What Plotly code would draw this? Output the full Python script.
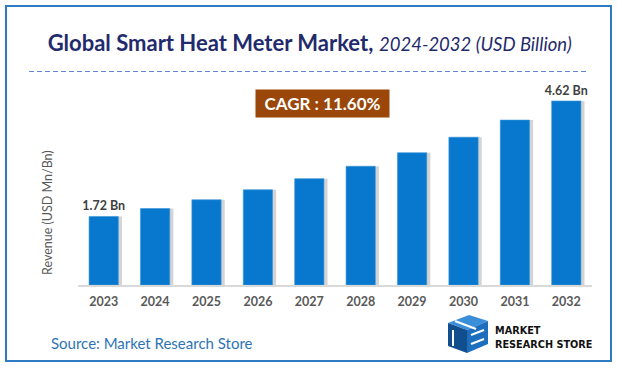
import plotly.graph_objects as go

years = ["2023", "2024", "2025", "2026", "2027", "2028", "2029", "2030", "2031", "2032"]
revenue = [1.72, 1.92, 2.14, 2.39, 2.67, 2.98, 3.32, 3.71, 4.14, 4.62]
bar_labels = ["1.72 Bn", "", "", "", "", "", "", "", "", "4.62 Bn"]
cagr_text = "CAGR : 11.60%"
title_main = "Global Smart Heat Meter Market,"
title_sub = "2024-2032 (USD Billion)"
y_title = "Revenue (USD Mn/Bn)"
source_text = "Source: Market Research Store"
logo_text = "MARKET<br>RESEARCH STORE"

W, H = 617, 369
L, R = 78, 592          # plot area pixel extents
TOP, BASE = 85, 285

def px_x(x):
    return (x - L) / (R - L)

def px_y(y):
    return (BASE - y) / (BASE - TOP)

FONT = "Lato"
BW = 0.57

fig = go.Figure()
# soft shadow behind bars
fig.add_trace(go.Bar(
    x=years, y=revenue, width=BW, offset=-BW / 2 + 0.07,
    marker=dict(color="rgba(100,100,100,0.28)", line=dict(width=0)),
    hoverinfo="skip", showlegend=False,
))
fig.add_trace(go.Bar(
    x=years, y=revenue, width=BW, offset=-BW / 2,
    marker=dict(color="#0878CE", line=dict(color="#3E98DC", width=0.6)),
    text=bar_labels, textposition="outside", cliponaxis=False, constraintext="none",
    textfont=dict(family=FONT, size=12.5, color="#404040", weight="bold"),
    showlegend=False,
))

shapes = [
    # outer border
    dict(type="rect", xref="paper", yref="paper",
         x0=px_x(6), x1=px_x(611), y0=px_y(361), y1=px_y(6),
         line=dict(color="#2F7BC3", width=2), fillcolor="rgba(0,0,0,0)", layer="below"),
    # dashed separator
    dict(type="line", xref="paper", yref="paper",
         x0=px_x(29), x1=px_x(587), y0=px_y(71.5), y1=px_y(71.5),
         line=dict(color="#5F86D2", width=1, dash="5px,3px")),
    # logo cube faces
    dict(type="path", xref="paper", yref="paper",
         path="M {} {} L {} {} L {} {} L {} {} Z".format(
             px_x(448), px_y(323), px_x(469), px_y(315), px_x(488), px_y(321), px_x(467), px_y(330)),
         fillcolor="#3B8FD9", line=dict(width=0)),
    dict(type="path", xref="paper", yref="paper",
         path="M {} {} L {} {} L {} {} L {} {} Z".format(
             px_x(448), px_y(323), px_x(467), px_y(330), px_x(467), px_y(353), px_x(448), px_y(346)),
         fillcolor="#104E8E", line=dict(width=0)),
    dict(type="path", xref="paper", yref="paper",
         path="M {} {} L {} {} L {} {} L {} {} Z".format(
             px_x(467), px_y(330), px_x(488), px_y(321), px_x(488), px_y(344), px_x(467), px_y(353)),
         fillcolor="#1E6EBE", line=dict(width=0)),
    # white strokes suggesting letters
    dict(type="line", xref="paper", yref="paper",
         x0=px_x(455), x1=px_x(476), y0=px_y(321), y1=px_y(329),
         line=dict(color="white", width=2)),
    dict(type="line", xref="paper", yref="paper",
         x0=px_x(453), x1=px_x(453), y0=px_y(330), y1=px_y(346),
         line=dict(color="white", width=2)),
    dict(type="line", xref="paper", yref="paper",
         x0=px_x(471), x1=px_x(484), y0=px_y(335), y1=px_y(330),
         line=dict(color="white", width=2)),
    dict(type="line", xref="paper", yref="paper",
         x0=px_x(471), x1=px_x(484), y0=px_y(344), y1=px_y(339),
         line=dict(color="white", width=2)),
]

annotations = [
    dict(text=cagr_text, xref="paper", yref="paper",
         x=px_x(322.5), y=px_y(103.5), xanchor="center", yanchor="middle",
         showarrow=False, width=131, height=25, bgcolor="#9A4709",
         font=dict(family=FONT, size=17, color="white", weight="bold")),
    dict(text=y_title, xref="paper", yref="paper", textangle=-90,
         x=px_x(47), y=px_y(213), xanchor="center", yanchor="middle",
         showarrow=False, font=dict(family=FONT, size=12.5, color="#595959")),
    dict(text=source_text, xref="paper", yref="paper",
         x=px_x(49), y=px_y(343), xanchor="left", yanchor="middle",
         showarrow=False, font=dict(family=FONT, size=15, color="#2E74B5")),
    dict(text=logo_text, xref="paper", yref="paper",
         x=px_x(494), y=px_y(337), xanchor="left", yanchor="middle", align="left",
         showarrow=False, borderpad=0,
         font=dict(family="DejaVu Sans Condensed", size=10.8, color="#111111", weight="bold")),
]

fig.update_layout(
    width=W, height=H,
    margin=dict(l=L, r=W - R, t=TOP, b=H - BASE),
    paper_bgcolor="white", plot_bgcolor="white",
    barmode="overlay",
    title=dict(
        text="<b>" + title_main + "</b> <i><span style='font-size:18.5px'>" + title_sub + "</span></i>",
        xref="container", yref="container", x=0.502, y=1 - 43 / H,
        xanchor="center", yanchor="middle",
        font=dict(family=FONT, size=22, color="#1F2B6C"),
    ),
    xaxis=dict(
        showgrid=False, zeroline=False, showline=True, linecolor="#D9D9D9", linewidth=1.5,
        ticks="", tickfont=dict(family=FONT, size=12.5, color="#595959", weight="bold"),
        ticklabelstandoff=4,
    ),
    yaxis=dict(range=[0, 5.02], showgrid=False, zeroline=False, showticklabels=False, showline=False),
    shapes=shapes, annotations=annotations,
)

fig.write_html(
    "out.html",
    config={"displayModeBar": False},
    post_script="document.body.style.margin='0';document.body.style.overflow='hidden';",
)
